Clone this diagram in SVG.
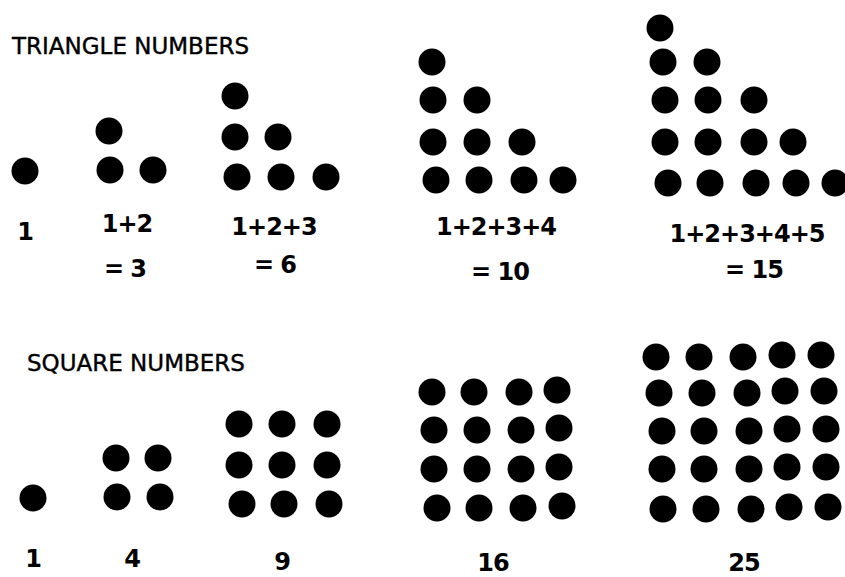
<svg xmlns="http://www.w3.org/2000/svg" width="845" height="577" viewBox="0 0 845 577">
<style>
.bg{fill:#ffffff}
.dot{fill:#000000}
.title{font-family:"DejaVu Sans",sans-serif;font-size:23px;fill:#000;stroke:#000;stroke-width:0.4px}
.lab{font-family:"DejaVu Sans",sans-serif;font-size:24px;font-weight:bold;letter-spacing:-1px;fill:#000;text-anchor:middle}
</style>
<defs>
<circle id="d" r="13.5" class="dot"/>
</defs>
<rect class="bg" x="0" y="0" width="845" height="577"/>
<g id="triangle-title"><text class="title" x="12" y="54">TRIANGLE NUMBERS</text></g>
<g id="tri1">
<use href="#d" x="25" y="171"/>
<text class="lab" x="25" y="240">1</text>
</g>
<g id="tri3">
<use href="#d" x="109" y="131"/>
<use href="#d" x="110" y="170"/><use href="#d" x="153" y="170"/>
<text class="lab" x="127" y="232">1+2</text>
<text class="lab" x="125" y="277">= 3</text>
</g>
<g id="tri6">
<use href="#d" x="235" y="96"/>
<use href="#d" x="235" y="137"/><use href="#d" x="278" y="137"/>
<use href="#d" x="237" y="177"/><use href="#d" x="281" y="177"/><use href="#d" x="326" y="177"/>
<text class="lab" x="274" y="235">1+2+3</text>
<text class="lab" x="275" y="273">= 6</text>
</g>
<g id="tri10">
<use href="#d" x="432" y="62"/>
<use href="#d" x="433" y="100"/><use href="#d" x="477" y="100"/>
<use href="#d" x="433" y="142"/><use href="#d" x="477" y="142"/><use href="#d" x="522" y="142"/>
<use href="#d" x="436" y="180"/><use href="#d" x="479" y="180"/><use href="#d" x="524" y="180"/><use href="#d" x="563" y="180"/>
<text class="lab" x="496" y="235">1+2+3+4</text>
<text class="lab" x="500" y="280">= 10</text>
</g>
<g id="tri15">
<use href="#d" x="660" y="28"/>
<use href="#d" x="663" y="62"/><use href="#d" x="707" y="62"/>
<use href="#d" x="665" y="100"/><use href="#d" x="708" y="100"/><use href="#d" x="754" y="100"/>
<use href="#d" x="665" y="142"/><use href="#d" x="708" y="142"/><use href="#d" x="754" y="142"/><use href="#d" x="793" y="142"/>
<use href="#d" x="668" y="183"/><use href="#d" x="710" y="183"/><use href="#d" x="756" y="183"/><use href="#d" x="796" y="183"/><use href="#d" x="835" y="183"/>
<text class="lab" x="747" y="242">1+2+3+4+5</text>
<text class="lab" x="754" y="278">= 15</text>
</g>
<g id="square-title"><text class="title" x="27" y="371">SQUARE NUMBERS</text></g>
<g id="sq1">
<use href="#d" x="33" y="498"/>
<text class="lab" x="33" y="567">1</text>
</g>
<g id="sq4">
<use href="#d" x="116" y="458"/><use href="#d" x="158" y="458"/>
<use href="#d" x="117" y="497"/><use href="#d" x="160" y="497"/>
<text class="lab" x="132" y="567">4</text>
</g>
<g id="sq9">
<use href="#d" x="239" y="424"/><use href="#d" x="282" y="424"/><use href="#d" x="327" y="424"/>
<use href="#d" x="239" y="465"/><use href="#d" x="282" y="465"/><use href="#d" x="327" y="465"/>
<use href="#d" x="242" y="504"/><use href="#d" x="284" y="504"/><use href="#d" x="329" y="504"/>
<text class="lab" x="282" y="570">9</text>
</g>
<g id="sq16">
<use href="#d" x="432" y="392"/><use href="#d" x="474" y="392"/><use href="#d" x="519" y="392"/><use href="#d" x="557" y="390"/>
<use href="#d" x="434" y="430"/><use href="#d" x="477" y="430"/><use href="#d" x="521" y="430"/><use href="#d" x="559" y="428"/>
<use href="#d" x="434" y="469"/><use href="#d" x="477" y="469"/><use href="#d" x="521" y="469"/><use href="#d" x="559" y="467"/>
<use href="#d" x="437" y="508"/><use href="#d" x="479" y="508"/><use href="#d" x="523" y="508"/><use href="#d" x="562" y="506"/>
<text class="lab" x="493" y="571">16</text>
</g>
<g id="sq25">
<use href="#d" x="656" y="357"/><use href="#d" x="699" y="357"/><use href="#d" x="743" y="357"/><use href="#d" x="782" y="355"/><use href="#d" x="821" y="355"/>
<use href="#d" x="659" y="393"/><use href="#d" x="702" y="393"/><use href="#d" x="747" y="393"/><use href="#d" x="785" y="391"/><use href="#d" x="824" y="391"/>
<use href="#d" x="662" y="431"/><use href="#d" x="704" y="431"/><use href="#d" x="749" y="431"/><use href="#d" x="787" y="429"/><use href="#d" x="826" y="429"/>
<use href="#d" x="662" y="469"/><use href="#d" x="704" y="469"/><use href="#d" x="749" y="469"/><use href="#d" x="787" y="467"/><use href="#d" x="826" y="467"/>
<use href="#d" x="663" y="509"/><use href="#d" x="706" y="509"/><use href="#d" x="751" y="509"/><use href="#d" x="789" y="507"/><use href="#d" x="828" y="507"/>
<text class="lab" x="744" y="571">25</text>
</g>
</svg>
